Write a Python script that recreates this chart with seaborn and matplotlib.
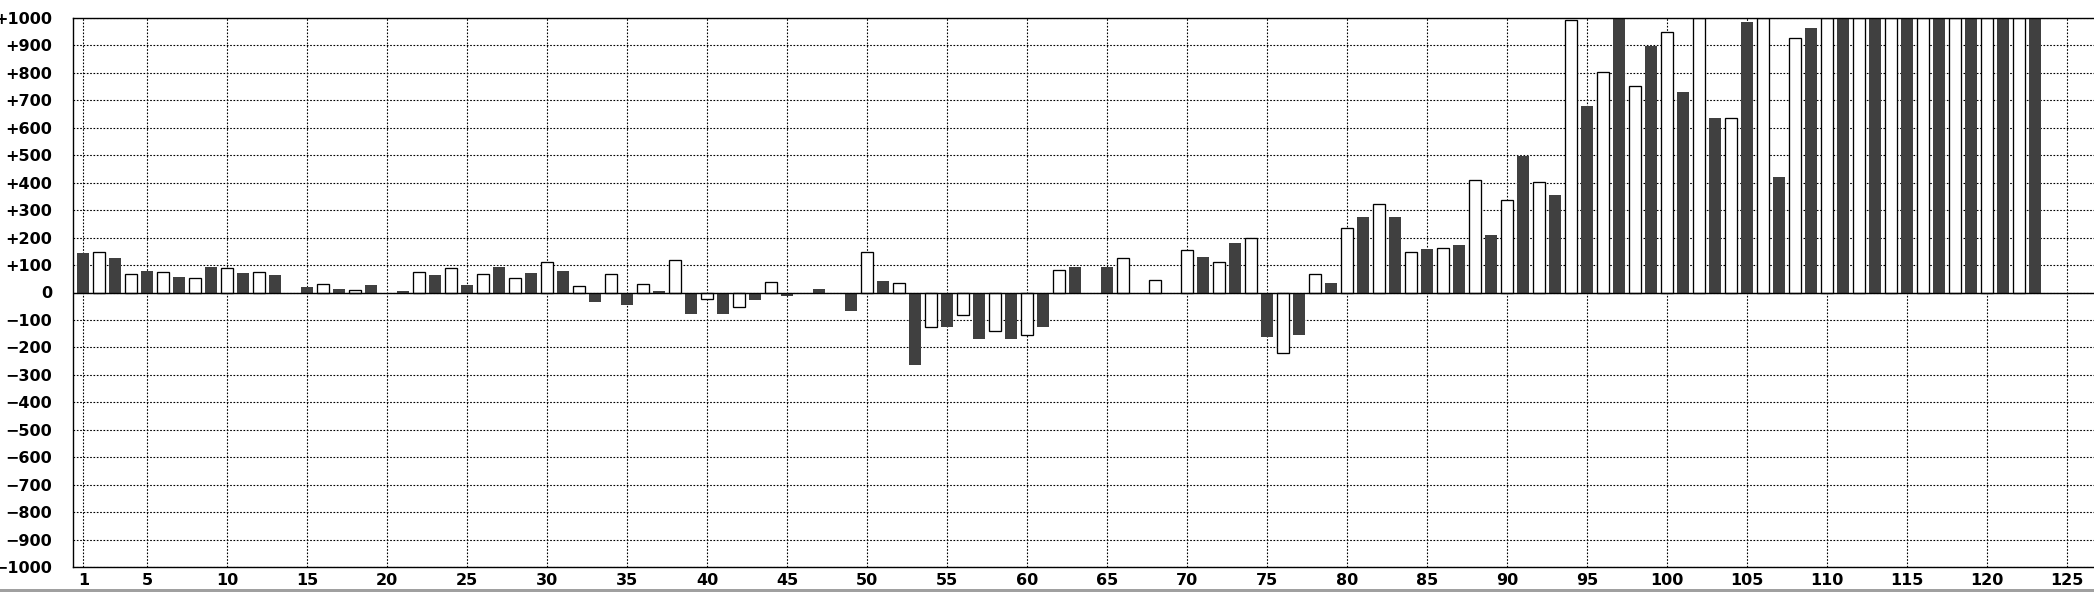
import numpy as np
import pandas as pd
import matplotlib
matplotlib.use("Agg")
import matplotlib.pyplot as plt
import seaborn as sns
from matplotlib.patches import Rectangle

nan = np.nan

# odd positions (dark bars)
dark_x = list(range(1, 124, 2))
dark_values = [145, 124, 79, 57, 94, 72, 64, 21, 13, 28,
               6, 64, 28, 94, 72, 79, -36, -44, 7, -79,
               -79, -28, -14, 13, -66, 43, -263, -124, -168, -168,
               -124, 94, 94, nan, nan, 130, 181, -161, -153, 35,
               276, 276, 159, 174, 210, 495, 356, 678, 1000, 897,
               729, 634, 984, 422, 962, 1000, 1000, 1000, 1000, 1000,
               1000, 1000]

# even positions (white bars)
white_x = list(range(2, 123, 2))
white_values = [148, 67, 74, 52, 89, 74, nan, 30, 8, nan,
                74, 89, 67, 52, 111, 23, 67, 32, 118, -23,
                -52, 38, nan, nan, 147, 36, -127, -82, -141, -156,
                82, nan, 125, 45, 155, 111, 198, -220, 67, 235,
                322, 147, 162, 410, 337, 403, 990, 804, 752, 949,
                1000, 636, 1000, 927, 1000, 1000, 1000, 1000, 1000, 1000,
                1000]

x_ticks = [1] + list(range(5, 126, 5))
y_ticks = list(range(-1000, 1001, 100))
y_labels = [("+%d" % v) if v > 0 else ("0" if v == 0 else "\u2212%d" % (-v)) for v in y_ticks]

df = pd.DataFrame({
    "x": dark_x + white_x,
    "value": dark_values + white_values,
    "series": ["dark"] * len(dark_x) + ["white"] * len(white_x),
}).dropna()

sns.set_style("white")
plt.rcParams["font.family"] = ["DejaVu Sans"]

W, H = 2094, 592
fig = plt.figure(figsize=(W / 100, H / 100), dpi=100)
left_px, top_px, bottom_px = 73.3, 17.7, 567.3
ax = fig.add_axes([left_px / W, (H - bottom_px) / H, 1 - left_px / W, (bottom_px - top_px) / H])

hue_order = ["dark", "white"]
sns.barplot(data=df, x="x", y="value", hue="series", hue_order=hue_order,
            palette={"dark": "#404040", "white": "#ffffff"},
            native_scale=True, dodge=False, width=0.75, saturation=1,
            errorbar=None, legend=False, ax=ax)

for cont, name in zip(ax.containers, hue_order):
    for p in cont:
        if name == "dark":
            p.set_edgecolor("none")
            p.set_linewidth(0)
        else:
            p.set_edgecolor("black")
            p.set_linewidth(0.95)

ax.set_xlim(0.375, 126.67)
ax.set_ylim(-1000, 1000)
ax.set_xticks(x_ticks)
ax.set_xticklabels([str(t) for t in x_ticks])
ax.set_yticks(y_ticks)
ax.set_yticklabels(y_labels)
ax.set_xlabel("")
ax.set_ylabel("")

ax.set_axisbelow(True)
ax.grid(True, color="black", linestyle=(0, (1.5, 1.5)), linewidth=0.8)
ax.tick_params(axis="both", length=0, labelsize=11.5, colors="black")
ax.tick_params(axis="y", pad=15)
ax.tick_params(axis="x", pad=4)
for lab in ax.get_xticklabels() + ax.get_yticklabels():
    lab.set_fontweight("bold")

for side in ["left", "top", "bottom"]:
    ax.spines[side].set_visible(True)
    ax.spines[side].set_color("black")
    ax.spines[side].set_linewidth(1.0)
ax.spines["right"].set_visible(False)

ax.axhline(0, color="black", linewidth=1.0, zorder=3)

fig.patches.append(Rectangle((0, 0), 1, 3 / H, transform=fig.transFigure,
                             facecolor="#a0a0a0", edgecolor="none", zorder=10))

fig.savefig("out.png", dpi=100)
